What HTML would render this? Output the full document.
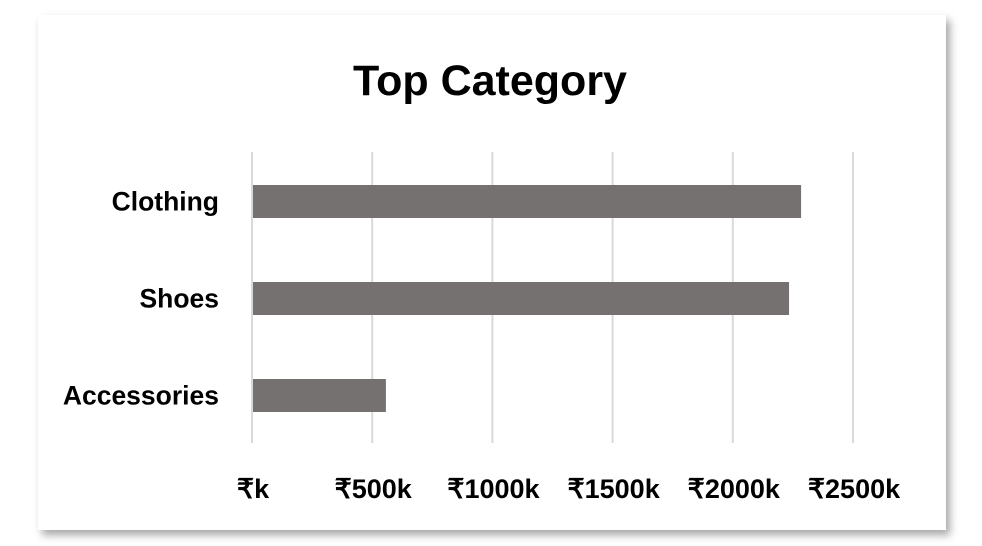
<!DOCTYPE html>
<html><head><meta charset="utf-8">
<style>
html,body{margin:0;padding:0;background:#fff;width:982px;height:546px;overflow:hidden}
#card{position:absolute;left:38px;top:15px;width:908px;height:515px;background:#fff;box-shadow:4px 5px 8px rgba(0,0,0,0.35)}
svg{position:absolute;left:0;top:0}
text{font-family:"Liberation Sans",Arial,sans-serif;font-weight:bold;fill:#000}
</style></head>
<body>
<div id="card"></div>
<svg id="chart" width="982" height="546">
<text x="490" y="95" text-anchor="middle" font-size="43">Top Category</text>
</svg>
<script>
const categories=["Clothing","Shoes","Accessories"];
const values=[2284,2234,557];
const ticks=[0,500,1000,1500,2000,2500];
const tickLabels=["₹k","₹500k","₹1000k","₹1500k","₹2000k","₹2500k"];
const svg=document.getElementById('chart');
const NS="http://www.w3.org/2000/svg";
const x0=252,pxPer=120.2/500;
const xs=v=>x0+v*pxPer;
const yTop=152,band=97;
function mk(t,a){const e=document.createElementNS(NS,t);for(const k in a)e.setAttribute(k,a[k]);svg.appendChild(e);return e;}
ticks.forEach((t,i)=>{
 const l=mk('line',{x1:xs(t),x2:xs(t),y1:yTop,y2:443,stroke:'#d9d9d9','stroke-width':2});
 
 
 const tx=mk('text',{x:xs(t)+1,y:498,'text-anchor':'middle','font-size':27});
 tx.textContent=tickLabels[i];
 
 
});
categories.forEach((c,i)=>{
 const cy=yTop+band*(i+0.5)+1;
 const r=mk('rect',{x:x0+1,y:cy-16.5,width:xs(values[i])-x0-1,height:33,fill:'#767171'});
 
 
 const t=mk('text',{x:219,y:cy+9,'text-anchor':'end','font-size':26.5});
 t.textContent=c;
 
 
});
</script>
</body></html>
